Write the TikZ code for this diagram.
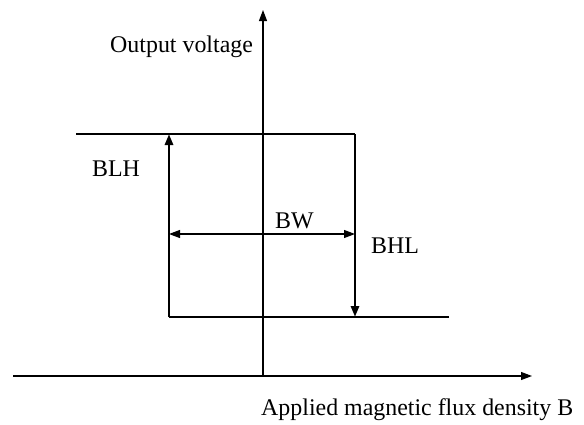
\documentclass[tikz,border=0pt]{standalone}
\usepackage{fontspec}
\setmainfont{Liberation Serif}
\usetikzlibrary{arrows.meta}
\tikzset{
  thinline/.style={line width=1.1pt},
  thickline/.style={line width=2.8pt},
  tip/.style={-{Triangle[length=11pt,width=8pt]}},
  lbl/.style={anchor=base west, inner sep=0pt, font=\fontsize{23.9}{28}\selectfont}
}
\begin{document}
\begin{tikzpicture}[x=1pt,y=-1pt]
\useasboundingbox (0,0) rectangle (584,424);
% axes
\coordinate (xs) at (13,376);
\coordinate (xe) at (532,376);
\coordinate (ys) at (263,376);
\coordinate (ye) at (263,10);
\draw[thinline,tip] (xs) -- (xe);
\draw[thinline,tip] (ys) -- (ye);
% hysteresis
\coordinate (tl) at (76,134);
\coordinate (tr) at (355,134);
\coordinate (rb) at (355,317);
\coordinate (bl) at (169,317);
\coordinate (br) at (449,317);
\coordinate (lt) at (169,134);
\draw[thickline,line cap=butt] (tl) -- (tr);
\draw[thickline,tip] (tr) -- (rb);
\draw[thickline] (br) -- (bl);
\draw[thickline,tip] (bl) -- (lt);
% BW arrow
\coordinate (wl) at (169,234);
\coordinate (wr) at (355,234);
\draw[thinline,{Triangle[length=11pt,width=8pt]}-{Triangle[length=11pt,width=8pt]}] (wl) -- (wr);
% labels
\node[lbl] (ov) at (110,52) {Output voltage};
\node[lbl] (blh) at (92,176) {BLH};
\node[lbl] (bw) at (275,228) {BW};
\node[lbl] (bhl) at (371,253) {BHL};
\node[lbl] (amf) at (261,415) {Applied magnetic flux density B};
\end{tikzpicture}
\end{document}
